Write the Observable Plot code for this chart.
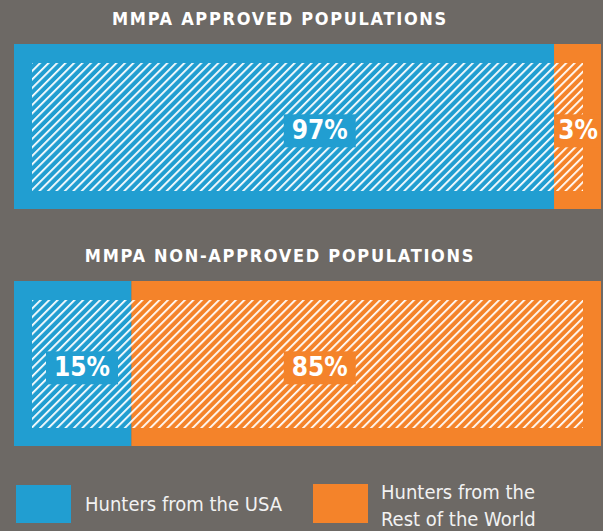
<!DOCTYPE html>
<html><head><meta charset="utf-8">
<script src="https://cdn.jsdelivr.net/npm/d3@7"></script>
<script src="https://cdn.jsdelivr.net/npm/@observablehq/plot@0.6"></script>
<style>
html,body{margin:0;padding:0;background:#6d6965;width:603px;height:531px;overflow:hidden;}
#chart svg{display:block}
.legend{position:relative;width:603px;height:71px;font-family:"Liberation Sans Narrow","Arial Narrow","DejaVu Sans Condensed",sans-serif;color:#f2f2f2;font-size:20px;line-height:27px}
.sw{position:absolute;width:55px;height:38px}
.lt{position:absolute;white-space:nowrap}
</style></head><body>
<div id="chart"></div>
<div class="legend" id="legend"></div>
<script>
// ---- data ----
const groups = ["MMPA APPROVED POPULATIONS", "MMPA NON-APPROVED POPULATIONS"];
const series = ["Hunters from the USA", "Hunters from the Rest of the World"];
const usaShare = [97, 15];      // printed labels (%)
const restShare = [3, 85];
const usaDrawn = [92, 20];      // segment lengths as drawn (% of bar)
const restDrawn = [8, 80];

// ---- styles ----
const BLUE = "#219ed1", ORANGE = "#f4832a";
const FONT = '"Liberation Sans Narrow","Arial Narrow","DejaVu Sans Condensed",sans-serif';

const rows = [];
groups.forEach((g, i) => {
  rows.push({group: g, series: series[0], drawn: usaDrawn[i], label: usaShare[i] + "%"});
  rows.push({group: g, series: series[1], drawn: restDrawn[i], label: restShare[i] + "%"});
});
groups.forEach(g => {
  let acc = 0;
  rows.filter(r => r.group === g).forEach(r => { r.x1 = acc; acc += r.drawn; r.x2 = acc; });
});
const labelX = r => r.drawn >= 50 ? 52 : (r.x1 === 0 ? (3 + r.x2) / 2 : (r.x1 + r.x2) / 2);

const plot = Plot.plot({
  width: 603, height: 460,
  marginLeft: 14, marginRight: 2, marginTop: 43, marginBottom: 13,
  x: {domain: [0, 100], axis: null},
  y: {domain: groups, axis: null, paddingInner: 0.3025, paddingOuter: 0},
  color: {domain: series, range: [BLUE, ORANGE]},
  style: {background: "none", overflow: "visible"},
  marks: [
    Plot.barX(rows, {x1: "x1", x2: "x2", y: "group", fill: "series"}),
    Plot.barX(groups, {x1: d => 0, x2: d => 100, y: d => d, fill: "url(#hatch)",
      insetLeft: 18, insetRight: 18, insetTop: 19, insetBottom: 18}),
    Plot.text(rows, {x: labelX, y: "group", text: "label", fill: "white",
      fontSize: 26, fontWeight: "bold", fontFamily: FONT, dy: 4}),
    Plot.text(groups, {x: d => 50, y: d => d, text: d => d, fill: "white",
      fontSize: 18, fontWeight: "bold", fontFamily: FONT, dx: -28, dy: -108})
  ]
});
document.getElementById("chart").append(plot);

const svg = d3.select(plot);
const xs = plot.scale("x");
const defs = svg.insert("defs", ":first-child");
const pat = defs.append("pattern").attr("id", "hatch")
  .attr("patternUnits", "userSpaceOnUse").attr("width", 6).attr("height", 6)
  .attr("patternTransform", "rotate(45)");
pat.append("rect").attr("x", 0).attr("y", 0).attr("width", 1.8).attr("height", 6).attr("fill", "white");

// label boxes (clipped to their own segment)
const labelNodes = svg.selectAll("text").nodes().filter(n => /%$/.test(n.textContent));
labelNodes.forEach((n, i) => {
  const b = n.getBBox();
  const m = n.getCTM();
  const r = document.createElementNS("http://www.w3.org/2000/svg", "rect");
  const segL = xs.apply(rows[i].x1), segR = xs.apply(rows[i].x2);
  let left = b.x - 8 + m.e, right = b.x + b.width + 8 + m.e;
  left = Math.max(left, segL); right = Math.min(right, segR);
  r.setAttribute("x", left); r.setAttribute("y", b.y - 1 + m.f);
  r.setAttribute("width", right - left); r.setAttribute("height", b.height + 3);
  r.setAttribute("fill", rows[i].series === series[0] ? BLUE : ORANGE);
  plot.insertBefore(r, n.parentNode);
});
svg.selectAll("text").nodes().filter(n => /^MMPA/.test(n.textContent))
  .forEach(n => n.style.letterSpacing = "1.7px");

// legend
const leg = document.getElementById("legend");
leg.innerHTML =
  `<div class="sw" style="left:16px;top:25px;background:${BLUE}"></div>` +
  `<div class="lt" style="left:85px;top:31px">${series[0]}</div>` +
  `<div class="sw" style="left:313px;top:24px;height:39px;background:${ORANGE}"></div>` +
  `<div class="lt" style="left:381px;top:19px">Hunters from the<br>Rest of the World</div>`;
</script>
</body></html>
